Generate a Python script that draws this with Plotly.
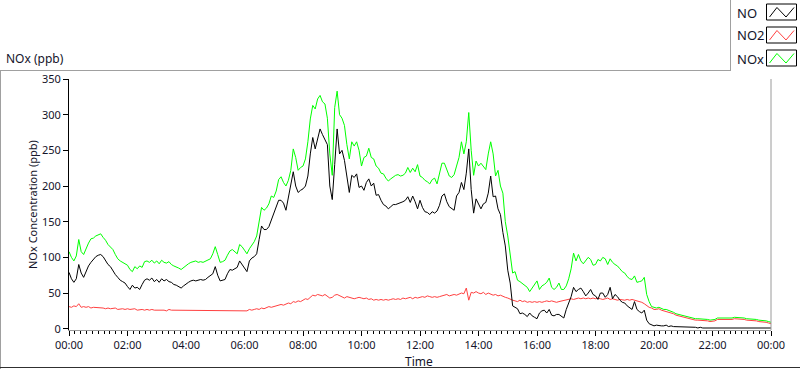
import plotly.graph_objects as go
import pandas as pd

# ---- data (5-minute samples, 00:00 -> 24:00) ----
no_ppb = [
    79,70,65,70,90,78,72,80,88,93, 97,101,103,104,101,95,90,87,81,76,
    72,68,66,64,59,55,61,57,58,55, 62,68,70,68,71,66,69,65,70,67,
    69,66,65,62,61,59,57,60,63,65, 67,68,67,68,69,68,69,72,74,
    77,87,75,67,68,69,77,83,82,84, 86,95,90,85,80,95,99,101,105,125,
    144,139,139,143,152,163,172,180,180,176, 166,185,200,220,200,191,194,196,200,214,
    245,268,252,266,280,272,265,258,200,181, 230,280,245,250,236,212,191,
    215,212,217,198,200,194,205,210,200,204, 187,188,180,174,172,168,171,174,174,175,
    177,178,180,185,177,186,178,168,180,170, 164,163,160,164,162,165,173,186,189,178,
    171,168,166,186,191,205,195,218,252,195, 162,182,175,168,175,177,190,214,
    185,186,168,160,135,116,82,64,32,30, 28,21,22,20,17,22,18,16,14,22,
    25,26,22,27,19,18,20,20,18,15, 27,35,45,58,52,55,57,52,46,50,
    55,48,46,41,50,50,44,48,58,42, 48,45,40,37,36,32,30,
    27,38,27,24,22,26,12,7,5,
    4,5,4,4,4,5,3,4,3,3, 3,3,2,3,2,2,2,2,1,2, 1,1,2,1,2,1,1,2,1,1,
    2,2,1,1,2,1,1,2,1,2, 1,1,2,1,1,2,1,1,1,
]

no2_ppb = [
    31,30,32,31,35,30,31,30,31,29,30,30,
    29,30,29,28,29,28,28,29,27,28,28,27,
    28,27,27,28,26,27,27,26,27,26,27,26,
    26,27,26,26,25,27,26,26,25,26,26,25,
    26,25,26,26,25,26,25,26,26,25,26,25,
    26,25,26,26,25,26,25,26,26,25,25,26,
    26,25,27,26,27,28,27,29,28,30,31,30,
    31,32,33,34,33,35,36,35,38,37,39,38,
    40,42,41,44,47,46,48,47,46,48,45,43,
    44,47,48,46,44,43,45,44,43,42,43,44,
    43,42,43,41,42,40,41,40,41,40,41,40,
    41,42,41,42,41,43,42,43,44,42,44,43,
    44,45,44,46,45,44,45,44,45,46,47,48,
    46,47,48,47,48,50,49,57,40,51,50,52,
    50,49,51,48,50,49,47,48,46,47,45,44,
    43,41,40,39,38,40,38,39,37,38,37,38,
    37,38,37,38,39,38,39,38,37,38,39,40,
    40,41,42,41,42,43,42,43,42,43,42,43,
    42,43,42,41,42,43,41,42,41,40,41,40,
    40,41,40,41,40,39,39,37,35,32,30,29,
    27,27,28,26,25,25,24,22,21,19, 18,18,16,15,15,14,13,12,12,12,
    12,12,11,10,10,11,13,13,13,12, 12,13,13,14,14,14,13,13,12,12,
    12,11,11,10,10,9,9,8,7,
]

nox_ppb = [
    108,100,95,102,125,108,104,113,120,126, 127,130,131,133,128,124,118,114,111,104,
    98,95,93,91,89,83,80,87,84,88, 86,94,95,93,96,92,95,91,96,93,
    92,94,90,88,87,85,83,86,89,91, 93,94,95,93,94,93,95,97,98,
    105,115,104,93,94,96,103,109,111,108, 105,118,115,110,105,112,117,122,130,150,
    170,166,169,175,186,184,193,209,213,205, 200,208,222,252,240,222,226,228,238,262,
    294,313,308,322,327,318,315,295,245,215, 310,333,300,295,285,258,238,
    262,256,262,250,228,240,242,253,240,238, 228,225,218,217,211,207,210,213,215,216,
    214,215,218,226,219,225,220,230,214,212, 208,206,203,209,211,203,220,232,232,222,
    214,212,216,228,240,262,245,262,303,250, 215,235,228,232,228,223,245,262,
    245,214,222,200,190,150,130,100,78,80, 68,66,63,60,58,52,57,63,67,55,
    60,62,65,71,58,55,58,64,55,55, 60,70,84,106,95,104,95,91,96,100,
    97,89,90,97,95,100,98,90,98,93, 90,88,84,80,78,73,70,
    69,74,65,66,67,72,48,38,31,
    30,29,30,28,27,27,26,24,23,21, 20,20,18,17,17,16,15,14,14,14,
    14,14,13,12,12,13,15,15,15,14, 14,15,15,16,16,16,15,15,14,14,
    14,13,13,12,12,11,11,10,9,
]

times = pd.date_range("2000-01-01 00:00", periods=len(nox_ppb), freq="5min")
series_names = ["NO", "NO2", "NOx"]
series_colors = ["#000000", "#ff4040", "#00ff00"]
y_ticks = [0, 50, 100, 150, 200, 250, 300, 350]

# ---- geometry helpers (pixel -> paper) ----
W, H = 800, 369
L, R, T, B = 69, 29, 79, 39
PW, PH = W - L - R, H - T - B
def px(x):
    return (x - L) / PW
def py(y):
    return (H - B - y) / PH

FONT = "Noto Sans"
TXT = "#14142a"

fig = go.Figure()
data_map = {"NO": no_ppb, "NO2": no2_ppb, "NOx": nox_ppb}
for name in ["NOx", "NO2", "NO"]:
    col = series_colors[series_names.index(name)]
    fig.add_trace(go.Scatter(x=times, y=data_map[name], mode="lines", name=name,
                             line=dict(color=col, width=1), showlegend=False))

fig.update_layout(
    width=W, height=H,
    margin=dict(l=L, r=R, t=T, b=B, pad=0),
    paper_bgcolor="white", plot_bgcolor="white",
    font=dict(family=FONT, size=11, color=TXT),
)
fig.update_xaxes(
    range=[times[0], times[-1]],
    tickformat="%H:%M", dtick=2 * 3600 * 1000, tick0=times[0],
    ticks="outside", ticklen=5, tickcolor="#000000",
    minor=dict(dtick=12 * 60 * 1000, ticks="outside", ticklen=3, tickcolor="#000000"),
    showgrid=False, zeroline=False,
    showline=True, linecolor="#9a9a9a", linewidth=1,
    tickfont=dict(size=11, family=FONT, color=TXT),
)
fig.update_yaxes(
    range=[-1.8, 350], tickvals=y_ticks,
    ticks="outside", ticklen=5, tickcolor="#000000",
    showgrid=False, zeroline=False,
    showline=True, linecolor="#000000", linewidth=1,
    tickfont=dict(size=11, family=FONT, color=TXT),
)

shapes = []
def line(x0, y0, x1, y1, color, width=1):
    shapes.append(dict(type="line", xref="paper", yref="paper",
                       x0=px(x0), y0=py(y0), x1=px(x1), y1=py(y1),
                       line=dict(color=color, width=width)))

# right edge of plot area
line(771, 79, 771, 330, "#9a9a9a")
# outer frame
line(0, 70.5, 730, 70.5, "#a0a0a0")
line(0.5, 70, 0.5, 369, "#a0a0a0")
line(730.5, 0, 730.5, 71, "#a0a0a0")
line(0, 367.5, 800, 367.5, "#303030")

# custom legend (text left, swatch right)
leg_y = [12.5, 35.5, 58.5]
annotations = []
for name, col, cy in zip(series_names, series_colors, leg_y):
    annotations.append(dict(text=name, xref="paper", yref="paper", x=px(735), y=py(cy),
                            xanchor="left", yanchor="middle", showarrow=False,
                            font=dict(size=13, family=FONT, color=TXT)))
    top, bot = cy - 8.5, cy + 7.5
    shapes.append(dict(type="rect", xref="paper", yref="paper",
                       x0=px(766.5), x1=px(796.5), y0=py(bot), y1=py(top),
                       line=dict(color="#000000", width=1), fillcolor="white"))
    path = "M {:.4f},{:.4f} L {:.4f},{:.4f} L {:.4f},{:.4f} L {:.4f},{:.4f}".format(
        px(769.5), py(cy + 4.5), px(777), py(cy - 5), px(786), py(cy + 4.5), px(794), py(cy - 5))
    shapes.append(dict(type="path", xref="paper", yref="paper", path=path,
                       line=dict(color=col, width=1)))

annotations.append(dict(text="NOx (ppb)", xref="paper", yref="paper", x=px(4), y=py(58),
                        xanchor="left", yanchor="middle", showarrow=False,
                        font=dict(size=12, family=FONT, color=TXT)))
annotations.append(dict(text="NOx Concentration (ppb)", xref="paper", yref="paper",
                        x=px(32), y=py(205), textangle=-90, xanchor="center", yanchor="middle",
                        showarrow=False, font=dict(size=11, family=FONT, color=TXT)))
annotations.append(dict(text="Time", xref="paper", yref="paper", x=px(419), y=py(361),
                        xanchor="center", yanchor="middle", showarrow=False,
                        font=dict(size=12, family=FONT, color=TXT)))

fig.update_layout(shapes=shapes, annotations=annotations)
fig.write_html("out.html", config={"displayModeBar": False},
               post_script="document.body.style.margin='0';document.body.style.padding='0';document.body.style.overflow='hidden';")
